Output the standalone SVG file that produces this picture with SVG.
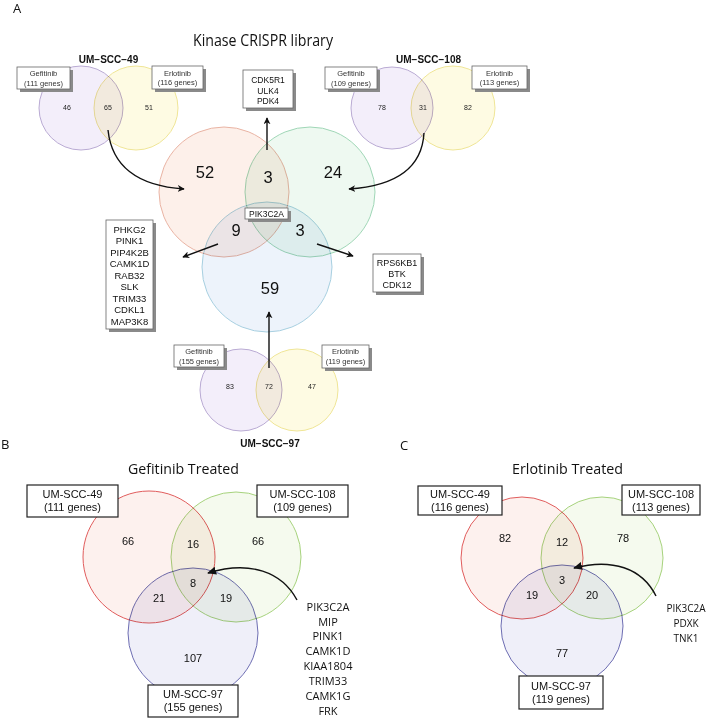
<svg xmlns="http://www.w3.org/2000/svg" width="709" height="720" viewBox="0 0 709 720">
<defs>
<style>
.bg{fill:#fff}
.c{mix-blend-mode:multiply;stroke-width:1}
.pu{fill:#f3eefa;stroke:#b9aad3}
.ye{fill:#fefbe3;stroke:#efe596}
.rA{fill:#fdf0ea;stroke:#e9b3a3}
.gA{fill:#eef9f1;stroke:#9fd6b6}
.bA{fill:#edf3fb;stroke:#a7cfe0}
.rB{fill:#fdf1ee;stroke:#e05c5c}
.gB{fill:#f5faee;stroke:#a6d27c}
.bB{fill:#efeff9;stroke:#6d6db2}
.sh{fill:#8a8a8a}
.bx{fill:#fff;stroke:#666;stroke-width:0.8}
.bx2{fill:#fff;stroke:#222;stroke-width:1.2}
.ar{fill:#111}
.t{font-family:"Liberation Sans",Arial,sans-serif;fill:#111;text-anchor:middle}
.st{font-size:7.5px;fill:#333}
.sn{font-size:7px;fill:#222}
.lb{font-size:10px;font-weight:bold}
.big{font-size:16.5px}
.gl{font-size:9.5px}
.o{font-family:"Open Sans","Noto Sans",sans-serif;fill:#111}
.bn{font-size:11px}
.bxt{font-size:11px}
.conn{fill:none;stroke:#111;stroke-width:1.4}
</style>
<marker id="ah" viewBox="0 0 10 10" refX="9" refY="5" markerWidth="7" markerHeight="7" orient="auto" markerUnits="userSpaceOnUse">
<path d="M0,0 L10,5 L0,10 L3,5 z" class="ar"/>
</marker>
<marker id="ah2" viewBox="0 0 10 10" refX="9" refY="5" markerWidth="9" markerHeight="9" orient="auto" markerUnits="userSpaceOnUse">
<path d="M0,0.5 L10,5 L0,9.5 z" class="ar"/>
</marker>
</defs>
<rect class="bg" width="709" height="720"/>

<g id="labels">
<text class="o" x="13" y="13" font-size="13">A</text>
<text class="o" x="1" y="449" font-size="13">B</text>
<text class="o" x="400" y="450" font-size="13">C</text>
<text class="o" x="263" y="46" font-size="15.5" text-anchor="middle" textLength="140" lengthAdjust="spacingAndGlyphs">Kinase CRISPR library</text>
<text class="o" x="183.5" y="474" font-size="14.5" text-anchor="middle" textLength="111" lengthAdjust="spacingAndGlyphs">Gefitinib Treated</text>
<text class="o" x="567.5" y="474" font-size="14.5" text-anchor="middle" textLength="111" lengthAdjust="spacingAndGlyphs">Erlotinib Treated</text>
</g>

<!-- UM-SCC-49 small venn -->
<g id="venn49">
<g style="isolation:isolate">
<circle class="c pu" cx="81" cy="108" r="42"/>
<circle class="c ye" cx="136" cy="108" r="42"/>
</g>
<text class="t sn" x="67" y="110">46</text>
<text class="t sn" x="108" y="110">65</text>
<text class="t sn" x="149" y="110">51</text>
<text class="t lb" x="108.5" y="63">UM−SCC−49</text>
<g id="box49g"><rect class="sh" x="20" y="70" width="53" height="22"/><rect class="bx" x="17" y="67" width="53" height="22"/>
<text class="t st" x="43.5" y="76">Gefitinib</text><text class="t st" x="43.5" y="85.5">(111 genes)</text></g>
<g id="box49e"><rect class="sh" x="155" y="69" width="51" height="23"/><rect class="bx" x="152" y="66" width="51" height="23"/>
<text class="t st" x="177.5" y="75.5">Erlotinib</text><text class="t st" x="177.5" y="85">(116 genes)</text></g>
</g>

<!-- UM-SCC-108 small venn -->
<g id="venn108">
<g style="isolation:isolate">
<circle class="c pu" cx="392" cy="108" r="41"/>
<circle class="c ye" cx="453" cy="108" r="42"/>
</g>
<text class="t sn" x="382" y="110">78</text>
<text class="t sn" x="423" y="110">31</text>
<text class="t sn" x="468" y="110">82</text>
<text class="t lb" x="428.5" y="63">UM−SCC−108</text>
<g id="box108g"><rect class="sh" x="328" y="70" width="52" height="22"/><rect class="bx" x="325" y="67" width="52" height="22"/>
<text class="t st" x="351" y="76">Gefitinib</text><text class="t st" x="351" y="85.5">(109 genes)</text></g>
<g id="box108e"><rect class="sh" x="475" y="69" width="55" height="23"/><rect class="bx" x="472" y="66" width="55" height="23"/>
<text class="t st" x="499.5" y="75.5">Erlotinib</text><text class="t st" x="499.5" y="85">(113 genes)</text></g>
</g>

<!-- UM-SCC-97 small venn -->
<g id="venn97">
<g style="isolation:isolate">
<circle class="c pu" cx="241" cy="390" r="41"/>
<circle class="c ye" cx="297" cy="390" r="41"/>
</g>
<text class="t sn" x="230" y="389">83</text>
<text class="t sn" x="269" y="389">72</text>
<text class="t sn" x="312" y="389">47</text>
<text class="t lb" x="270" y="447">UM−SCC−97</text>
<g id="box97g"><rect class="sh" x="177" y="348" width="50" height="22"/><rect class="bx" x="174" y="345" width="50" height="22"/>
<text class="t st" x="199" y="354">Gefitinib</text><text class="t st" x="199" y="363.5">(155 genes)</text></g>
<g id="box97e"><rect class="sh" x="325" y="348" width="47" height="23"/><rect class="bx" x="322" y="345" width="47" height="23"/>
<text class="t st" x="345.5" y="354">Erlotinib</text><text class="t st" x="345.5" y="364">(119 genes)</text></g>
</g>

<!-- Big kinase venn -->
<g id="vennKinase">
<g style="isolation:isolate">
<circle class="c rA" cx="224" cy="192" r="65"/>
<circle class="c gA" cx="310" cy="192" r="65"/>
<circle class="c bA" cx="267" cy="267" r="65"/>
</g>
<text class="t big" x="205" y="178">52</text>
<text class="t big" x="268" y="183">3</text>
<text class="t big" x="333" y="178">24</text>
<text class="t big" x="236" y="236">9</text>
<text class="t big" x="300" y="236">3</text>
<text class="t big" x="270" y="294">59</text>
</g>

<g id="boxPIK"><rect class="sh" x="248" y="211" width="43" height="11"/><rect class="bx" x="245" y="208" width="43" height="11"/>
<text class="t" x="266.5" y="217" font-size="8.5">PIK3C2A</text></g>

<g id="boxTop"><rect class="sh" x="246" y="73" width="50" height="38"/><rect class="bx" x="243" y="70" width="50" height="38"/>
<text class="t" x="268" y="83" font-size="8.5">CDK5R1</text><text class="t" x="268" y="93.5" font-size="8.5">ULK4</text><text class="t" x="268" y="104" font-size="8.5">PDK4</text></g>

<g id="boxLeft"><rect class="sh" x="109" y="223" width="47" height="109"/><rect class="bx" x="106" y="220" width="47" height="109"/>
<text class="t gl" x="129.5" y="232.5">PHKG2</text>
<text class="t gl" x="129.5" y="244">PINK1</text>
<text class="t gl" x="129.5" y="255.5">PIP4K2B</text>
<text class="t gl" x="129.5" y="267">CAMK1D</text>
<text class="t gl" x="129.5" y="278.5">RAB32</text>
<text class="t gl" x="129.5" y="290">SLK</text>
<text class="t gl" x="129.5" y="301.5">TRIM33</text>
<text class="t gl" x="129.5" y="313">CDKL1</text>
<text class="t gl" x="129.5" y="324.5">MAP3K8</text></g>

<g id="boxRight"><rect class="sh" x="376" y="257" width="48" height="38"/><rect class="bx" x="373" y="254" width="48" height="38"/>
<text class="t" x="397" y="266" font-size="9">RPS6KB1</text><text class="t" x="397" y="277" font-size="9">BTK</text><text class="t" x="397" y="288" font-size="9">CDK12</text></g>

<!-- Panel B -->
<g id="vennGef">
<g style="isolation:isolate">
<circle class="c rB" cx="149" cy="557" r="66"/>
<circle class="c gB" cx="236" cy="557" r="65"/>
<circle class="c bB" cx="193" cy="633" r="65"/>
</g>
<text class="t bn" x="128" y="545">66</text>
<text class="t bn" x="193" y="548">16</text>
<text class="t bn" x="258" y="545">66</text>
<text class="t bn" x="193" y="587">8</text>
<text class="t bn" x="159" y="602">21</text>
<text class="t bn" x="226" y="602">19</text>
<text class="t bn" x="193" y="662">107</text>
</g>
<g id="bGef49"><rect class="bx2" x="27" y="485" width="91" height="32"/>
<text class="t bxt" x="72.5" y="498">UM-SCC-49</text><text class="t bxt" x="72.5" y="511">(111 genes)</text></g>
<g id="bGef108"><rect class="bx2" x="257" y="485" width="91" height="32"/>
<text class="t bxt" x="302.5" y="498">UM-SCC-108</text><text class="t bxt" x="302.5" y="511">(109 genes)</text></g>
<g id="bGef97"><rect class="bx2" x="148" y="685" width="90" height="32"/>
<text class="t bxt" x="193" y="698">UM-SCC-97</text><text class="t bxt" x="193" y="711">(155 genes)</text></g>
<g id="gefGenes" class="o" font-size="11" text-anchor="middle">
<text x="328" y="611">PIK3C2A</text>
<text x="328" y="625.5">MIP</text>
<text x="328" y="640">PINK1</text>
<text x="328" y="655">CAMK1D</text>
<text x="328" y="670">KIAA1804</text>
<text x="328" y="685">TRIM33</text>
<text x="328" y="700">CAMK1G</text>
<text x="328" y="714.5">FRK</text>
</g>

<!-- Panel C -->
<g id="vennErl">
<g style="isolation:isolate">
<circle class="c rB" cx="522" cy="558" r="61"/>
<circle class="c gB" cx="602" cy="558" r="61"/>
<circle class="c bB" cx="562" cy="626" r="61"/>
</g>
<text class="t bn" x="505" y="542">82</text>
<text class="t bn" x="562" y="546">12</text>
<text class="t bn" x="623" y="542">78</text>
<text class="t bn" x="562" y="584">3</text>
<text class="t bn" x="532" y="599">19</text>
<text class="t bn" x="592" y="599">20</text>
<text class="t bn" x="562" y="657">77</text>
</g>
<g id="cErl49"><rect class="bx2" x="418" y="486" width="84" height="29"/>
<text class="t bxt" x="460" y="498">UM-SCC-49</text><text class="t bxt" x="460" y="511">(116 genes)</text></g>
<g id="cErl108"><rect class="bx2" x="622" y="485" width="78" height="30"/>
<text class="t bxt" x="661" y="497.5">UM-SCC-108</text><text class="t bxt" x="661" y="510.5">(113 genes)</text></g>
<g id="cErl97"><rect class="bx2" x="519" y="676" width="84" height="33"/>
<text class="t bxt" x="561" y="690">UM-SCC-97</text><text class="t bxt" x="561" y="703">(119 genes)</text></g>
<g id="erlGenes" class="o" font-size="10" text-anchor="middle">
<text x="686" y="612">PIK3C2A</text>
<text x="686" y="627">PDXK</text>
<text x="686" y="641.5">TNK1</text>
</g>

<g id="connectors">
<path class="conn" d="M108,130 C112,168 140,186 184,189" marker-end="url(#ah)"/>
<path class="conn" d="M424,133 C422,168 395,186 349,189" marker-end="url(#ah)"/>
<path class="conn" d="M267,150 L267,118" marker-end="url(#ah)"/>
<path class="conn" d="M218,244 L183,257" marker-end="url(#ah)"/>
<path class="conn" d="M317,244 L353,256" marker-end="url(#ah)"/>
<path class="conn" d="M269,368 L269,312" marker-end="url(#ah)"/>
<path class="conn" d="M297,600 C282,572 250,560 208,573" marker-end="url(#ah2)"/>
<path class="conn" d="M656,596 C642,568 612,558 574,568" marker-end="url(#ah2)"/>
</g>
</svg>
